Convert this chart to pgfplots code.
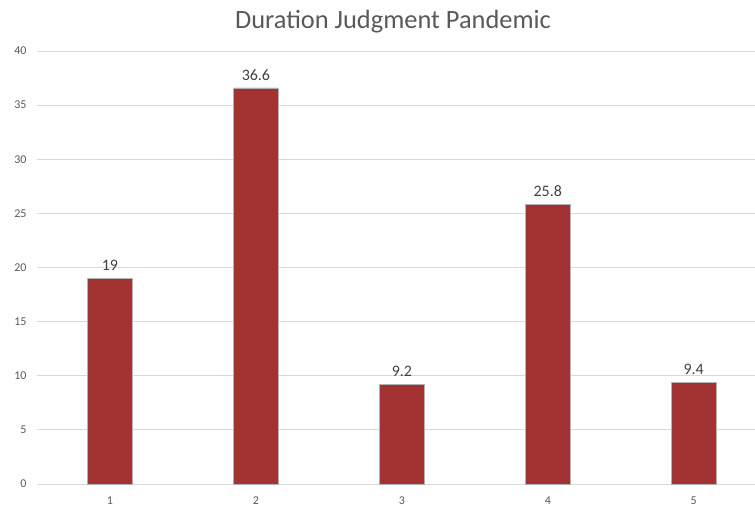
\documentclass[border=0pt]{standalone}
\usepackage{pgfplots}
\pgfplotsset{compat=1.18}
\usepackage{fontspec}
\setmainfont{Carlito}
\definecolor{barred}{RGB}{163,51,51}
\definecolor{gridgray}{RGB}{217,217,217}
\definecolor{ticktext}{RGB}{89,89,89}
\definecolor{labeltext}{RGB}{64,64,64}
\begin{document}
\begin{tikzpicture}
\path[use as bounding box] (0,0) rectangle (755bp,506bp);
\begin{axis}[
  at={(37bp,22bp)}, anchor=south west,
  scale only axis,
  width=718bp, height=433bp,
  xmin=0.5, xmax=5.42,
  ymin=0, ymax=40,
  ytick={0,5,...,40},
  xtick={1,2,3,4,5},
  axis line style={draw=none},
  ymajorgrids,
  grid style={gridgray, line width=0.8pt},
  major tick length=0pt,
  ticklabel style={font=\fontsize{12}{14}\selectfont, text=ticktext},
  /pgf/number format/assume math mode=true,
  yticklabel style={xshift=-7bp},
  xticklabel style={yshift=-9bp},
  title={Duration Judgment Pandemic},
  title style={font=\fontsize{26.5}{30}\selectfont, text=ticktext, yshift=8bp, xshift=-3bp},
  ybar, bar width=45bp,
  nodes near coords,
  nodes near coords style={font=\fontsize{16}{18}\selectfont, text=labeltext, yshift=4bp},
  clip=false,
]
\addplot[fill=barred, draw=gray!60, line width=0.6pt] coordinates {(1,19) (2,36.6) (3,9.2) (4,25.8) (5,9.4)};
\end{axis}
\end{tikzpicture}
\end{document}
